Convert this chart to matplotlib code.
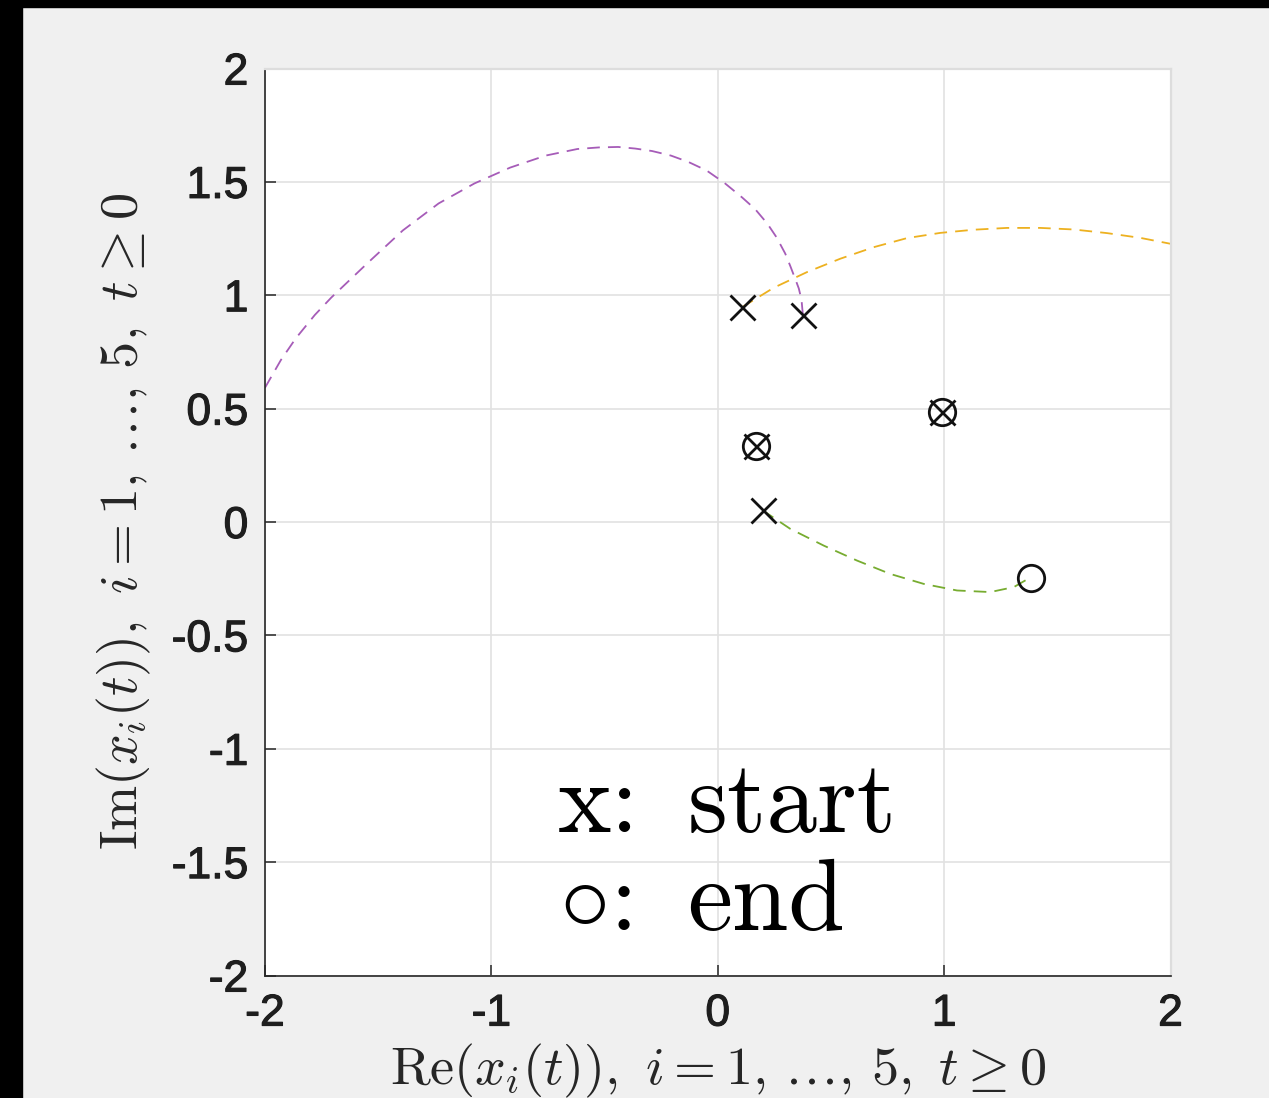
import matplotlib
matplotlib.use('Agg')
import matplotlib.pyplot as plt
import matplotlib.patheffects as pe
from matplotlib.patches import Rectangle

purple_re = [0.376, 0.370, 0.358, 0.345, 0.320, 0.298, 0.260, 0.219, 0.165, 0.108, 0.030, -0.049,
             -0.130, -0.207, -0.290, -0.365, -0.440, -0.524, -0.620, -0.760, -0.917, -1.075,
             -1.233, -1.391, -1.549, -1.707, -1.780, -1.864, -1.930, -2.03]
purple_im = [0.914, 0.980, 1.030, 1.065, 1.130, 1.184, 1.255, 1.316, 1.380, 1.431, 1.495, 1.550,
             1.588, 1.616, 1.636, 1.647, 1.654, 1.652, 1.645, 1.616, 1.563, 1.493,
             1.405, 1.286, 1.140, 0.990, 0.913, 0.810, 0.714, 0.540]

orange_re = [0.107, 0.247, 0.394, 0.541, 0.689, 0.836, 0.983, 1.131, 1.278, 1.425, 1.573, 1.720,
             1.867, 2.0, 2.05]
orange_im = [0.947, 1.033, 1.102, 1.161, 1.212, 1.252, 1.275, 1.289, 1.297, 1.297, 1.290, 1.274,
             1.253, 1.227, 1.215]

green_re = [0.199, 0.320, 0.468, 0.615, 0.762, 0.910, 1.057, 1.204, 1.308, 1.384]
green_im = [0.051, -0.030, -0.104, -0.170, -0.229, -0.273, -0.302, -0.309, -0.287, -0.243]

start_re = [0.107, 0.376, 0.199, 0.170, 0.989]
start_im = [0.947, 0.914, 0.051, 0.337, 0.484]
end_re = [0.170, 0.989, 1.384]
end_im = [0.337, 0.484, -0.246]

xticks = [-2, -1, 0, 1, 2]
xticklabels = ['-2', '-1', '0', '1', '2']
yticks = [-2, -1.5, -1, -0.5, 0, 0.5, 1, 1.5, 2]
yticklabels = ['-2', '-1.5', '-1', '-0.5', '0', '0.5', '1', '1.5', '2']

plt.rcParams['mathtext.fontset'] = 'cm'
plt.rcParams['axes.unicode_minus'] = False

fig = plt.figure(figsize=(12.69, 10.98), dpi=100, facecolor='#f0f0f0')
ax = fig.add_axes([265/1269, 1-975.5/1098, 905.5/1269, 907/1098])
ax.set_facecolor('white')

# black screen border strips on left and top
fig.patches.append(Rectangle((0, 0), 22/1269, 1, transform=fig.transFigure, color='black', zorder=0))
fig.patches.append(Rectangle((0, 1-7/1098), 1, 7/1098, transform=fig.transFigure, color='black', zorder=0))

dash = (7, 4.5)
ax.plot(purple_re, purple_im, color='#a65cb8', lw=1.3, dashes=dash, zorder=2)
ax.plot(orange_re, orange_im, color='#edb120', lw=1.3, dashes=dash, zorder=2)
ax.plot(green_re, green_im, color='#77ac30', lw=1.3, dashes=dash, zorder=2)

ax.plot(start_re, start_im, 'x', color='#111111', ms=18, mew=2.0, zorder=3)
ax.plot(end_re, end_im, 'o', color='#111111', ms=19, mew=2.0, mfc='none', zorder=3)

ax.text(-0.709, -1.369, 'x:', fontfamily='cmr10', fontsize=73, va='baseline', ha='left')
ax.text(-0.135, -1.369, 'start', fontfamily='cmr10', fontsize=73, va='baseline', ha='left')
ax.text(-0.70, -1.801, r'$\circ$:', fontfamily='cmr10', fontsize=73, va='baseline', ha='left')
ax.text(-0.135, -1.801, 'end', fontfamily='cmr10', fontsize=73, va='baseline', ha='left')

ax.set_xlim(-2, 2)
ax.set_ylim(-2, 2)
ax.set_xticks(xticks)
ax.set_xticklabels(xticklabels)
ax.set_yticks(yticks)
ax.set_yticklabels(yticklabels)

ax.grid(True, color='#e2e2e2', lw=1.2)
ax.set_axisbelow(True)
for s in ['left', 'bottom']:
    ax.spines[s].set_color('#262626')
    ax.spines[s].set_linewidth(1.2)
for s in ['top', 'right']:
    ax.spines[s].set_color('#dddddd')
    ax.spines[s].set_linewidth(1.6)

ax.tick_params(direction='in', length=8, width=1.1, color='#262626', labelcolor='#1e1e1e',
               top=False, right=False)
ax.tick_params(axis='x', pad=13)
ax.tick_params(axis='y', pad=12)
for lab in ax.get_xticklabels() + ax.get_yticklabels():
    lab.set_fontfamily('Liberation Sans')
    lab.set_fontsize(32)
    lab.set_path_effects([pe.withStroke(linewidth=0.8, foreground='#1e1e1e')])

xl = r'$\mathrm{Re}(x_i(t)),\ i=1,\,\ldots,\,5,\ t\geq 0$'
yl = r'$\mathrm{Im}(x_i(t)),\ i=1,\,\ldots,\,5,\ t\geq 0$'
ax.set_xlabel(xl, fontsize=39, color='#262626')
ax.set_ylabel(yl, fontsize=39, color='#262626')
ax.xaxis.set_label_coords(0.5, -0.073)
ax.yaxis.set_label_coords(-0.124, 0.5)

fig.savefig('out.png', dpi=100, facecolor=fig.get_facecolor())
